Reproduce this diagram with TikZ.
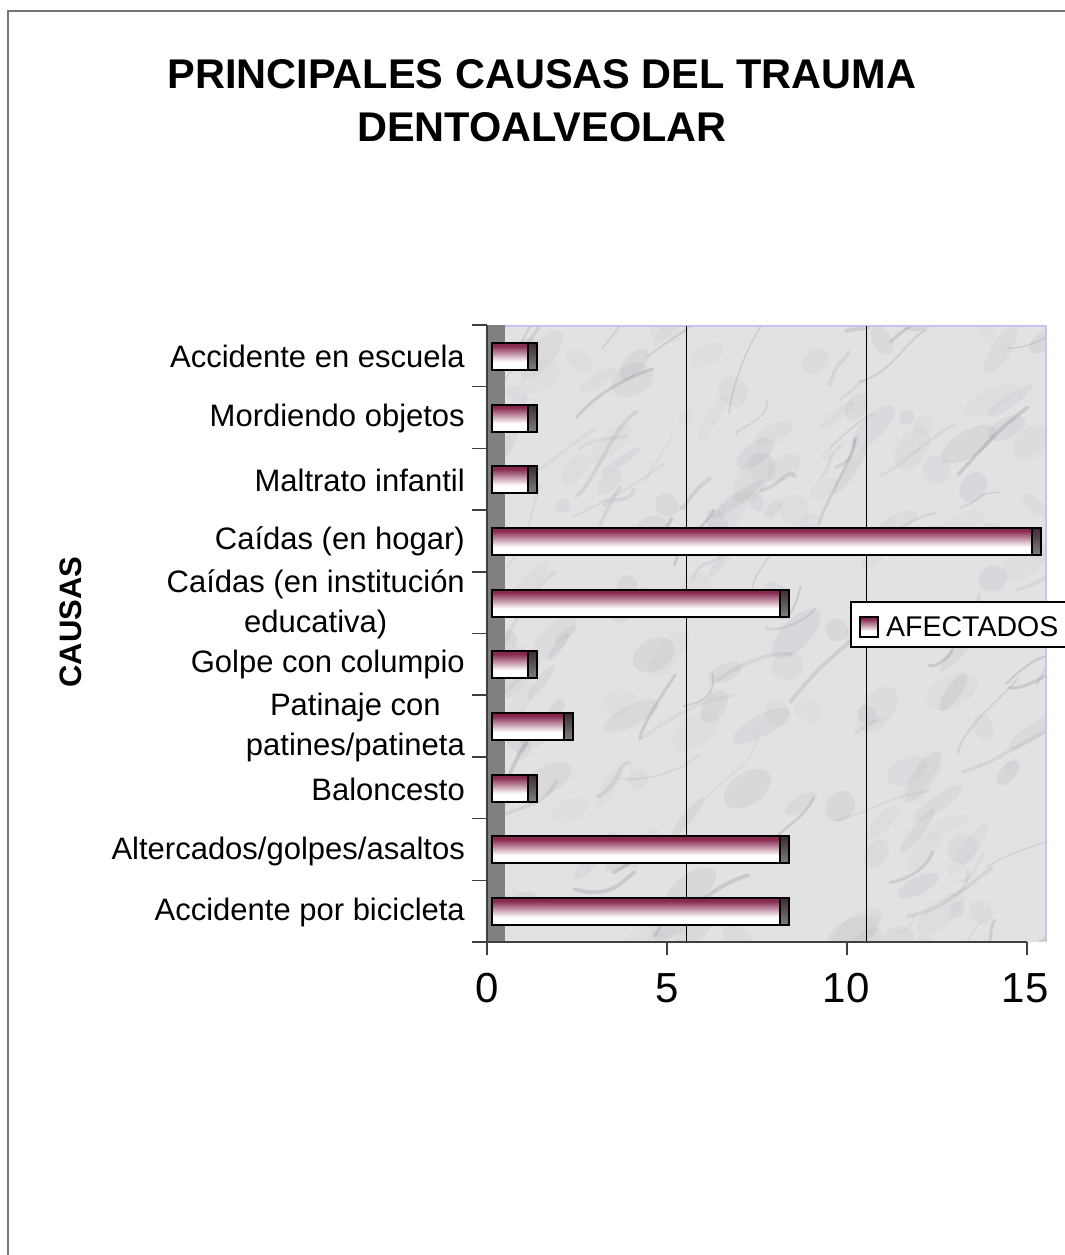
\documentclass[tikz,border=0pt]{standalone}
\usepackage{fontspec}
\setmainfont{Liberation Sans}
\definecolor{barc}{HTML}{87284F}
\definecolor{capdark}{HTML}{3E2A34}
\definecolor{wallc}{HTML}{808080}
\definecolor{marblec}{HTML}{E2E2E5}
\definecolor{veinc}{HTML}{7C7C84}
\definecolor{lavc}{HTML}{C4C4F0}
\definecolor{framec}{HTML}{777777}
\definecolor{axisc}{HTML}{404040}
\pgfdeclareverticalshading{barshade}{100bp}{color(0bp)=(white); color(25bp)=(white); color(40bp)=(white); color(55bp)=(barc!50!white); color(70bp)=(barc); color(100bp)=(barc)}
\pgfdeclareverticalshading{capshade}{100bp}{color(0bp)=(wallc); color(25bp)=(wallc); color(75bp)=(capdark); color(100bp)=(capdark)}
\tikzset{
  catlabel/.style={anchor=east, align=center, inner sep=0pt, font=\fontsize{31}{40}\selectfont},
  ticklabel/.style={anchor=center, inner sep=0pt, font=\fontsize{42}{46}\selectfont},
  baroutline/.style={draw=black, line width=2pt},
  axisline/.style={draw=axisc, line width=1.5pt},
  gridline/.style={draw=black, line width=0.9pt}
}
\begin{document}
\begin{tikzpicture}[x=1pt,y=-1pt]
\useasboundingbox (0,0) rectangle (1065,1255);
% outer frame
\draw[framec, line width=2pt] (8,1262) -- (8,11) -- (1072,11);
% title
\node[align=center, inner sep=0pt, font=\fontsize{41.5}{53}\selectfont\bfseries] (title) at (542,101)
  {PRINCIPALES CAUSAS DEL TRAUMA\\DENTOALVEOLAR};
% axis title
\node[rotate=90, inner sep=0pt, font=\fontsize{31}{36}\selectfont\bfseries] (ytitle) at (71,622) {CAUSAS};
% back wall (marble)
\fill[marblec] (505,326) rectangle (1046,942);
\begin{scope}
  \clip (505,326) rectangle (1046,942);
  \pgfmathsetseed{12}
  \foreach \k in {1,...,160}{
    \pgfmathsetmacro\xa{495+rnd*560}
    \pgfmathsetmacro\ya{316+rnd*636}
    \pgfmathsetmacro\ra{6+rnd*26}
    \pgfmathsetmacro\rb{4+rnd*12}
    \pgfmathsetmacro\op{0.03+rnd*0.07}
    \pgfmathsetmacro\rot{20+rnd*40}
    \fill[veinc, opacity=\op, rotate around={\rot:(\xa,\ya)}] (\xa,\ya) ellipse [x radius=\ra, y radius=\rb];
  }
  \foreach \k in {1,...,90}{
    \pgfmathsetmacro\xa{470+rnd*620}
    \pgfmathsetmacro\ya{320+rnd*680}
    \pgfmathsetmacro\ang{15+rnd*55}
    \pgfmathsetmacro\len{25+rnd*80}
    \pgfmathsetmacro\xd{\xa+\len*cos(\ang)}
    \pgfmathsetmacro\yd{\ya-\len*sin(\ang)}
    \pgfmathsetmacro\xb{\xa+0.33*\len*cos(\ang)+rnd*30-15}
    \pgfmathsetmacro\yb{\ya-0.33*\len*sin(\ang)+rnd*30-15}
    \pgfmathsetmacro\xc{\xa+0.66*\len*cos(\ang)+rnd*30-15}
    \pgfmathsetmacro\yc{\ya-0.66*\len*sin(\ang)+rnd*30-15}
    \pgfmathsetmacro\lw{1+rnd*3}
    \pgfmathsetmacro\op{0.08+rnd*0.18}
    \draw[veinc, line width=\lw pt, opacity=\op, line cap=round]
      (\xa,\ya) .. controls (\xb,\yb) and (\xc,\yc) .. (\xd,\yd);
  }
\end{scope}
\draw[lavc, line width=1.5pt] (505,326) -- (1046,326) -- (1046,942);
% grid lines
\draw[gridline] (686,326) -- (686,942);
\draw[gridline] (866,326) -- (866,942);
% side wall
\fill[wallc] (487,325) rectangle (505,942);
% axes
\draw[axisline] (487,325) -- (487,955);
\draw[axisline] (472,942) -- (1027,942);
\foreach \k in {0,...,9}{
  \draw[axisline] (472,{325+61.7*\k}) -- (487,{325+61.7*\k});
}
\foreach \t/\xx in {0/487,5/667,10/847,15/1027}{
  \draw[axisline] (\xx,942) -- (\xx,955);
}
\node[ticklabel] (t0) at (487,988) {0};
\node[ticklabel] (t5) at (667,988) {5};
\node[ticklabel] (t10) at (846,988) {10};
\node[ticklabel] (t15) at (1025,988) {15};
% bars
\foreach \v [count=\i from 0] in {1,1,1,15,8,1,2,1,8,8}{
  \pgfmathsetmacro\yc{325+61.7*(\i+0.5)+0.5}
  \pgfmathsetmacro\ytop{\yc-13.5}
  \pgfmathsetmacro\ybot{\yc+13.5}
  \pgfmathsetmacro\xe{492+36*\v}
  \pgfmathsetmacro\xcap{\xe+8.5}
  \shade[shading=barshade] (492,\ytop) rectangle (\xe,\ybot);
  \shade[shading=capshade] (\xe,\ytop) rectangle (\xcap,\ybot);
  \draw[baroutline] (492,\ytop) rectangle (\xcap,\ybot);
  \draw[black, line width=1.2pt] (\xe,\ytop) -- (\xe,\ybot);
}
% category labels
\node[catlabel] (c1) at (465,356) {Accidente en escuela};
\node[catlabel] (c2) at (465,418) {Mordiendo objetos};
\node[catlabel] (c3) at (465,480) {Maltrato infantil};
\node[catlabel] (c4) at (465,541) {Caídas (en hogar)};
\node[catlabel] (c5) at (465,604) {Caídas (en institución\\educativa)};
\node[catlabel] (c6) at (465,664) {Golpe con columpio};
\node[catlabel] (c7) at (465,727) {Patinaje con\\patines/patineta};
\node[catlabel] (c8) at (465,789) {Baloncesto};
\node[catlabel] (c9) at (465,851) {Altercados/golpes/asaltos};
\node[catlabel] (c10) at (465,912) {Accidente por bicicleta};
% legend
\draw[black, fill=white, line width=1.2pt] (851,602) rectangle (1080,647);
\shade[shading=barshade] (860,617) rectangle (878,637);
\draw[black, line width=1.5pt] (860,617) rectangle (878,637);
\node[anchor=west, inner sep=0pt, font=\fontsize{28.5}{32}\selectfont] (leg) at (886,627) {AFECTADOS};
\end{tikzpicture}
\end{document}
